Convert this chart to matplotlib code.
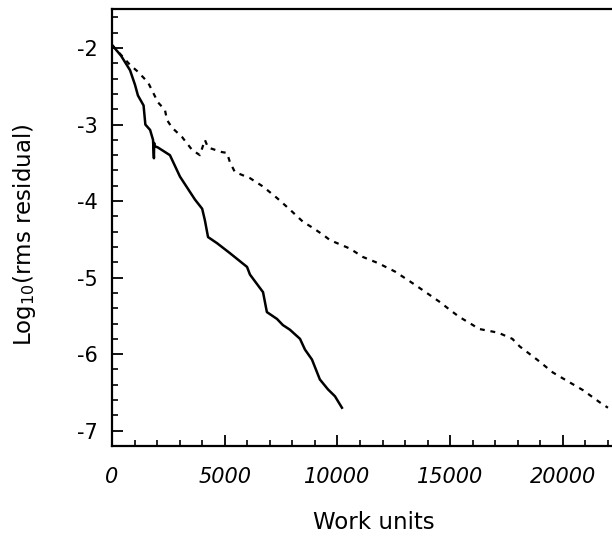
import matplotlib
matplotlib.use("Agg")
import matplotlib.pyplot as plt
from matplotlib.ticker import MultipleLocator

# Solid curve (work units, log10 rms residual)
solid_x = [0, 400, 800, 1020, 1150, 1400, 1480, 1690, 1820, 1860, 1870, 1880, 2040, 2570,
           3015, 3680, 4000, 4120, 4260, 4660, 5230, 5990, 6120, 6700, 6870, 7320, 7580,
           7890, 8340, 8560, 8870, 9220, 9580, 9890, 10200]
solid_y = [-1.96, -2.10, -2.29, -2.48, -2.62, -2.75, -3.00, -3.07, -3.20, -3.44, -3.24, -3.28, -3.30, -3.40,
           -3.68, -3.98, -4.10, -4.25, -4.47, -4.55, -4.68, -4.86, -4.96, -5.19, -5.45, -5.54, -5.62,
           -5.68, -5.80, -5.94, -6.07, -6.33, -6.46, -6.55, -6.70]

# Dashed curve
dash_x = [0, 800, 1150, 1600, 2040, 2350, 2440, 2660, 3100, 3550, 3900, 4120, 4260,
          4880, 5100, 5230, 5450, 6120, 6700, 7320, 7890, 8470, 8910, 9360, 9670,
          10550, 11130, 11800, 12550, 13220, 13570, 14550, 14940, 15390, 16010, 16270,
          17140, 17760, 18090, 18850, 19560, 20310, 20890, 21640, 22000]
dash_y = [-1.96, -2.22, -2.31, -2.45, -2.71, -2.81, -2.94, -3.04, -3.16, -3.33, -3.40, -3.20, -3.30,
          -3.36, -3.37, -3.49, -3.62, -3.70, -3.81, -3.96, -4.11, -4.27, -4.35, -4.44, -4.51,
          -4.62, -4.73, -4.81, -4.92, -5.05, -5.12, -5.32, -5.41, -5.51, -5.62, -5.67,
          -5.72, -5.80, -5.90, -6.07, -6.24, -6.37, -6.47, -6.63, -6.70]

x_ticks = [0, 5000, 10000, 15000, 20000]
x_ticklabels = ["0", "5000", "10000", "15000", "20000"]
y_ticks = [-7, -6, -5, -4, -3, -2]
y_ticklabels = ["-7", "-6", "-5", "-4", "-3", "-2"]

fig = plt.figure(figsize=(6.12, 5.43), dpi=100)
ax = fig.add_axes([112/612, 1-446/543, 500/612, (446-9)/543])

ax.plot(solid_x, solid_y, color="black", lw=1.8, solid_joinstyle="round")
ax.plot(dash_x, dash_y, color="black", lw=1.6, linestyle=(0, (2.2, 2.6)))

ax.set_xlim(0, 22180)
ax.set_ylim(-7.2, -1.49)

ax.set_xticks(x_ticks)
ax.set_xticklabels(x_ticklabels, fontstyle="italic")
ax.set_yticks(y_ticks)
ax.set_yticklabels(y_ticklabels)
ax.xaxis.set_minor_locator(MultipleLocator(1000))
ax.yaxis.set_minor_locator(MultipleLocator(0.2))

ax.tick_params(axis="both", which="major", direction="in", length=8, width=1.3,
               labelsize=15, top=False, right=False)
ax.tick_params(axis="both", which="minor", direction="in", length=4.5, width=1.2,
               top=False, right=False)
ax.tick_params(axis="x", which="major", pad=15)
ax.tick_params(axis="y", which="major", pad=10)

for s in ["left", "top", "bottom"]:
    ax.spines[s].set_linewidth(1.6)
ax.spines["right"].set_visible(False)

ax.set_xlabel("Work units", fontsize=16.5, va="center")
ax.xaxis.set_label_coords(0.524, -0.174)
ax.set_ylabel("Log$_{10}$(rms residual)", fontsize=16.5, va="center")
ax.yaxis.set_label_coords(-0.174, 0.483)

fig.savefig("out.png", dpi=100)
